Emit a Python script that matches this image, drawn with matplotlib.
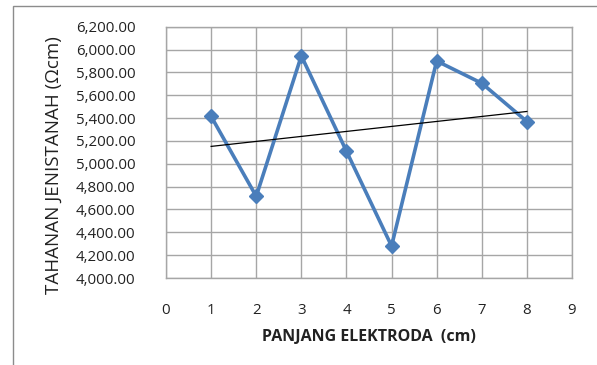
import matplotlib
matplotlib.use("Agg")
import matplotlib.pyplot as plt
import matplotlib.patches as patches
import numpy as np

# ===== data =====
panjang = [1, 2, 3, 4, 5, 6, 7, 8]                                   # cm
tahanan = [5415, 4715, 5945, 5110, 4280, 5900, 5705, 5370]           # ohm.cm
y_ticks = [4000, 4200, 4400, 4600, 4800, 5000, 5200, 5400, 5600, 5800, 6000, 6200]
x_ticks = [0, 1, 2, 3, 4, 5, 6, 7, 8, 9]

plt.rcParams['font.family'] = ['Open Sans', 'DejaVu Sans']

fig = plt.figure(figsize=(5.97, 3.65), dpi=100)
ax = fig.add_axes([166/597, 1-278/365, (572-166)/597, (278-26.7)/365])

# outer chart border (only top and left visible)
fig.patches.append(patches.Rectangle((13/597, -0.1), 1.2, 1-6/365+0.1,
                                     transform=fig.transFigure, fill=False,
                                     edgecolor='#8c8c8c', linewidth=1.0))

grid_c = '#a6a6a6'
ax.plot(panjang, tahanan, color='#4a7ebb', linewidth=2.6, marker='D',
        markersize=7.5, zorder=3)

# linear trend
a, b = np.polyfit(panjang, tahanan, 1)
xt = np.array([panjang[0], panjang[-1]])
ax.plot(xt, a*xt + b, color='black', linewidth=0.9, zorder=4)

ax.set_xlim(0, 9)
ax.set_ylim(4000, 6200)
ax.set_xticks(x_ticks)
ax.set_yticks(y_ticks)
ax.set_yticklabels(['{:,.2f}'.format(v) for v in y_ticks])
ax.grid(True, color=grid_c, linewidth=1.0)
ax.set_axisbelow(True)
for s in ax.spines.values():
    s.set_color(grid_c)
    s.set_linewidth(1.0)
ax.tick_params(length=0, labelsize=10.8, colors='#222222')
ax.tick_params(axis='y', pad=22)
ax.tick_params(axis='x', pad=18)

ax.set_xlabel('PANJANG ELEKTRODA  (cm)', fontsize=11.5, fontweight='bold',
              color='#222222', labelpad=8)
ax.set_ylabel('TAHANAN JENISTANAH (\u03a9cm)', fontsize=13.5, color='#222222')
ax.yaxis.set_label_coords(-0.255, 0.45)

fig.savefig('out.png', dpi=100)
